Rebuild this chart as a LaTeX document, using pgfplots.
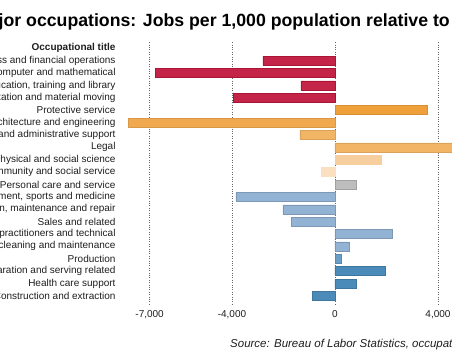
\documentclass[border=0pt]{standalone}
\usepackage{fontspec}
\setmainfont{Liberation Sans}
\usepackage{pgfplots}
\pgfplotsset{compat=1.18}
\definecolor{crim}{RGB}{196,36,72}
\definecolor{crimE}{RGB}{170,20,55}
\definecolor{orA}{RGB}{239,160,58}
\definecolor{orB}{RGB}{240,169,79}
\definecolor{orC}{RGB}{242,181,101}
\definecolor{orD}{RGB}{247,207,158}
\definecolor{orE}{RGB}{250,223,192}
\definecolor{grayb}{RGB}{189,189,189}
\definecolor{blA}{RGB}{146,179,212}
\definecolor{blB}{RGB}{106,159,201}
\definecolor{blC}{RGB}{74,139,185}
\definecolor{txt}{RGB}{30,30,30}
\begin{document}
\begin{tikzpicture}
\path[use as bounding box, clip] (0pt,0pt) rectangle (452pt,360pt);
\begin{axis}[
  at={(120pt,55.4pt)}, anchor=south west,
  scale only axis, width=332pt, height=262.5pt,
  xmin=-8350, xmax=4544, ymin=-0.5, ymax=20.7,
  y dir=reverse,
  xbar, bar width=9pt, bar shift=0pt,
  axis line style={draw=none},
  tick style={draw=none},
  xtick={-7200,-4000,0,4000},
  xticklabels={{-7,000},{-4,000},{0},{4,000}},
  xticklabel style={font=\fontsize{10}{12}\selectfont, text=txt, yshift=-2pt},
  xmajorgrids,
  grid style={dotted, black!60, line width=0.7pt},
  ytick={0,...,20},
  yticklabels={{\bfseries Occupational title},
    Business and financial operations,
    Computer and mathematical,
    {Education, training and library},
    Transportation and material moving,
    Protective service,
    Architecture and engineering,
    Office and administrative support,
    Legal,
    {Life, physical and social science},
    Community and social service,
    Personal care and service,
    {Arts, design, entertainment, sports and medicine},
    {Installation, maintenance and repair},
    Sales and related,
    Healthcare practitioners and technical,
    Building and grounds cleaning and maintenance,
    Production,
    Food preparation and serving related,
    Health care support,
    Construction and extraction},
  yticklabel style={anchor=east, inner sep=0pt, xshift=0pt, font=\fontsize{10}{12}\selectfont, text=txt},
]
\addplot[fill=crim, draw=crimE, line width=0.5pt] coordinates {(-2800,1) (-6980,2) (-1330,3) (-3960,4)};
\addplot[fill=orA, draw=orA!90!black, line width=0.5pt] coordinates {(3600,5)};
\addplot[fill=orB, draw=orB!90!black, line width=0.5pt] coordinates {(-8040,6)};
\addplot[fill=orC, draw=orC!90!black, line width=0.5pt] coordinates {(-1360,7) (4800,8)};
\addplot[fill=orD, draw=orD, line width=0.5pt] coordinates {(1810,9)};
\addplot[fill=orE, draw=orE, line width=0.5pt] coordinates {(-540,10)};
\addplot[fill=grayb, draw=grayb!85!black, line width=0.5pt] coordinates {(840,11)};
\addplot[fill=blA, draw=blA!85!black, line width=0.5pt] coordinates {(-3850,12) (-2020,13) (-1700,14) (2210,15) (560,16)};
\addplot[fill=blB, draw=blB!85!black, line width=0.5pt] coordinates {(230,17)};
\addplot[fill=blC, draw=blC!85!black, line width=0.5pt] coordinates {(1950,18) (840,19) (-870,20)};
\end{axis}
\node[anchor=base east, inner sep=0pt, font=\fontsize{17.7}{21}\selectfont\bfseries] at (450pt,334pt) {Major occupations: Jobs per 1,000 population relative to};
\node[anchor=base west, inner sep=0pt, font=\fontsize{11.5}{13}\selectfont\itshape, text=txt] at (230pt,13pt) {Source: Bureau of Labor Statistics, occupational employment statistics};
\end{tikzpicture}
\end{document}
